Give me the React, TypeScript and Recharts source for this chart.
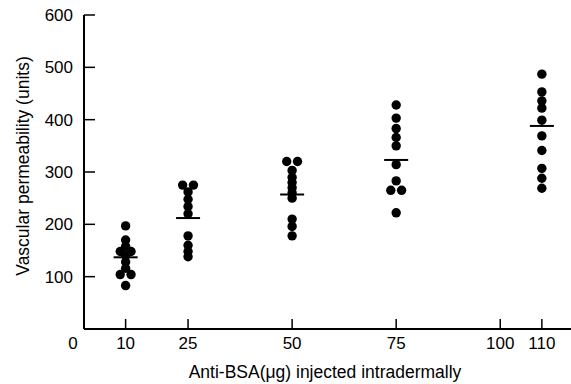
import { ScatterChart, Scatter, XAxis, YAxis } from 'recharts';

// dose groups (ug anti-BSA) and individual permeability readings
const doses = [10, 25, 50, 75, 110];
const perm10 = [197, 170, 158, 148, 148, 140, 128, 116, 104, 104, 83];
const perm25 = [275, 275, 262, 248, 234, 220, 178, 160, 148, 138];
const perm50 = [320, 320, 303, 290, 280, 270, 260, 250, 210, 196, 178];
const perm75 = [428, 403, 383, 366, 350, 314, 283, 265, 265, 222];
const perm110 = [487, 453, 436, 422, 399, 369, 341, 307, 288, 269];
const means = [137, 212, 257, 323, 388];

// which dots sit side by side (-1 left, 1 right)
const side10 = [0, 0, 0, -1, 1, 0, 0, 0, -1, 1, 0];
const side25 = [-1, 1, 0, 0, 0, 0, 0, 0, 0, 0];
const side50 = [-1, 1, 0, 0, 0, 0, 0, 0, 0, 0, 0];
const side75 = [0, 0, 0, 0, 0, 0, 0, -1, 1, 0];
const side110 = [0, 0, 0, 0, 0, 0, 0, 0, 0, 0];

const xTicks = [0, 10, 25, 50, 75, 100, 110];
const yTicks = [100, 200, 300, 400, 500, 600];

const groups = [perm10, perm25, perm50, perm75, perm110];
const sides = [side10, side25, side50, side75, side110];
const SPREAD = 1.3;

const points = groups.flatMap((vals, g) =>
    vals.map((v, i) => ({ dose: doses[g] + sides[g][i] * SPREAD, value: v }))
);
const meanPoints = doses.map((d, i) => ({ dose: d, value: means[i] }));

const FONT = '"Liberation Sans", Arial, sans-serif';

const Dot = (p: any) => <circle cx={p.cx} cy={p.cy} r={4.7} fill="#000" />;
const MeanBar = (p: any) => (
    <line x1={p.cx - 12} x2={p.cx + 12} y1={p.cy} y2={p.cy} stroke="#000" strokeWidth={2} />
);

const XTick = ({ x, y, payload }: any) => {
    const zero = payload.value === 0;
    return (
        <g>
            {!zero && <line x1={x} x2={x} y1={y} y2={y - 10} stroke="#000" strokeWidth={1.5} />}
            <text
                x={zero ? x - 11 : x}
                y={y + 20}
                textAnchor="middle"
                fontSize={17}
                fontFamily={FONT}
                fill="#000"
            >
                {payload.value}
            </text>
        </g>
    );
};

const YTick = ({ x, y, payload }: any) => (
    <g>
        <line x1={x} x2={x + 11} y1={y} y2={y} stroke="#000" strokeWidth={1.5} />
        <text x={x - 11} y={y + 6} textAnchor="end" fontSize={17} fontFamily={FONT} fill="#000">
            {payload.value}
        </text>
    </g>
);

export default function App() {
    return (
        <div style={{ position: 'absolute', left: 0, top: 0, width: 571, height: 384, background: '#fff' }}>
            <ScatterChart width={571} height={384} margin={{ top: 15, right: 0, left: 0, bottom: 25 }}>
                <XAxis
                    type="number"
                    dataKey="dose"
                    domain={[0, 117]}
                    ticks={xTicks}
                    height={30}
                    tickSize={0}
                    tickMargin={0}
                    tick={<XTick />}
                    interval={0}
                    axisLine={{ stroke: '#000', strokeWidth: 2 }}
                    tickLine={false}
                />
                <YAxis
                    type="number"
                    dataKey="value"
                    domain={[0, 600]}
                    ticks={yTicks}
                    width={84}
                    tickSize={0}
                    tickMargin={0}
                    tick={<YTick />}
                    interval={0}
                    axisLine={{ stroke: '#000', strokeWidth: 2 }}
                    tickLine={false}
                />
                <Scatter data={points} shape={Dot} isAnimationActive={false} />
                <Scatter data={meanPoints} shape={MeanBar} isAnimationActive={false} />
                <text
                    x={325}
                    y={378}
                    textAnchor="middle"
                    fontSize={17.5}
                    fontFamily={FONT}
                    fill="#000"
                >
                    Anti-BSA(μg) injected intradermally
                </text>
                <text
                    x={29}
                    y={166}
                    transform="rotate(-90 29 166)"
                    textAnchor="middle"
                    fontSize={17.5}
                    fontFamily={FONT}
                    fill="#000"
                >
                    Vascular permeability (units)
                </text>
            </ScatterChart>
        </div>
    );
}
